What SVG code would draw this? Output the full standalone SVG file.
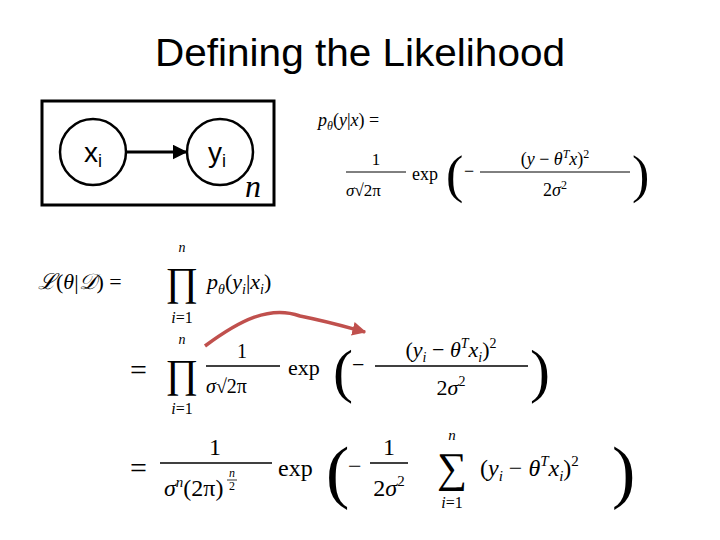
<svg xmlns="http://www.w3.org/2000/svg" width="720" height="540" viewBox="0 0 720 540">
<style>
.m{font-family:"Liberation Serif","DejaVu Serif",serif;fill:#000}
.i{font-style:italic}
.s{font-family:"Liberation Sans",Arial,sans-serif}
</style>
<defs>
<marker id="ab" viewBox="0 0 10 10" refX="9" refY="5" markerWidth="5" markerHeight="5" orient="auto"><path d="M0,0L10,5L0,10z" fill="#000"/></marker>
<marker id="ar" viewBox="0 0 10 10" refX="9" refY="5" markerWidth="4" markerHeight="4" orient="auto"><path d="M0,0L10,5L0,10z" fill="#c0504d"/></marker>
</defs>
<rect width="720" height="540" fill="#fff"/>
<text x="155" y="66" textLength="410" lengthAdjust="spacingAndGlyphs" class="s" font-size="38">Defining the Likelihood</text>
<g id="plate"><rect x="42" y="101" width="232" height="104" fill="none" stroke="#000" stroke-width="3"/>
<text x="245" y="197" class="m i" font-size="32">n</text></g>
<g id="xi"><circle cx="93" cy="152" r="33" fill="#fff" stroke="#000" stroke-width="2.5"/>
<text x="84" y="162" class="s" font-size="28">x<tspan font-size="18" dy="5">i</tspan></text></g>
<g id="yi"><circle cx="220" cy="152" r="33" fill="#fff" stroke="#000" stroke-width="2.5"/>
<text x="208" y="162" class="s" font-size="28">y<tspan font-size="18" dy="5">i</tspan></text></g>
<g id="connectors">
<line x1="127" y1="152" x2="186" y2="152" stroke="#000" stroke-width="3" marker-end="url(#ab)"/>
<path d="M205,346 C240,320 270,305 300,316 C330,322 350,328 365,332" fill="none" stroke="#c0504d" stroke-width="3.5" marker-end="url(#ar)"/>
</g>
<g id="formulas" class="m" font-size="18">
<text x="318" y="126"><tspan class="i">p</tspan><tspan font-size="12" class="i" dy="4">θ</tspan><tspan dy="-4">(</tspan><tspan class="i">y</tspan>|<tspan class="i">x</tspan>) =</text>
<text x="376" y="165" font-size="17" text-anchor="middle">1</text>
<line x1="346" y1="172" x2="406" y2="172" stroke="#000"/>
<text x="346" y="196" font-size="17"><tspan class="i">σ</tspan>√2π</text>
<text x="412" y="180" font-size="18">exp</text>
<text x="446" y="192" font-size="52">(</text>
<text x="464" y="177">−</text>
<line x1="480" y1="172" x2="630" y2="172" stroke="#000"/>
<text x="555" y="165" text-anchor="middle">(<tspan class="i">y</tspan> − <tspan class="i">θ</tspan><tspan font-size="12" class="i" dy="-7">T</tspan><tspan dy="7" class="i">x</tspan>)<tspan font-size="12" dy="-7">2</tspan></text>
<text x="555" y="196" text-anchor="middle">2<tspan class="i">σ</tspan><tspan font-size="12" dy="-7">2</tspan></text>
<text x="632" y="192" font-size="52">)</text>

<text x="38" y="289" font-size="22"><tspan class="i">ℒ</tspan>(<tspan class="i">θ</tspan>|<tspan class="i">𝒟</tspan>) =</text>
<text x="182" y="252" font-size="14" class="i" text-anchor="middle">n</text>
<text x="182" y="295" font-size="40" text-anchor="middle">∏</text>
<text x="182" y="323" font-size="16" text-anchor="middle"><tspan class="i">i</tspan>=1</text>
<text x="207" y="289" font-size="22"><tspan class="i">p</tspan><tspan font-size="14" class="i" dy="5">θ</tspan><tspan dy="-5">(</tspan><tspan class="i">y</tspan><tspan font-size="14" class="i" dy="5">i</tspan><tspan dy="-5">|</tspan><tspan class="i">x</tspan><tspan font-size="14" class="i" dy="5">i</tspan><tspan dy="-5">)</tspan></text>

<text x="130" y="380" font-size="30">=</text>
<text x="182" y="344" font-size="14" class="i" text-anchor="middle">n</text>
<text x="182" y="387" font-size="40" text-anchor="middle">∏</text>
<text x="182" y="414" font-size="16" text-anchor="middle"><tspan class="i">i</tspan>=1</text>
<text x="242" y="358" font-size="20" text-anchor="middle">1</text>
<line x1="206" y1="366" x2="280" y2="366" stroke="#000" stroke-width="1.3"/>
<text x="206" y="393" font-size="20"><tspan class="i">σ</tspan>√2π</text>
<text x="288" y="375" font-size="22">exp</text>
<text x="333" y="391" font-size="60">(</text>
<text x="352" y="372" font-size="22">−</text>
<line x1="375" y1="366" x2="528" y2="366" stroke="#000" stroke-width="1.3"/>
<text x="451" y="357" font-size="22" text-anchor="middle">(<tspan class="i">y</tspan><tspan font-size="14" class="i" dy="5">i</tspan><tspan dy="-5"> − </tspan><tspan class="i">θ</tspan><tspan font-size="14" class="i" dy="-9">T</tspan><tspan dy="9" class="i">x</tspan><tspan font-size="14" class="i" dy="5">i</tspan><tspan dy="-5">)</tspan><tspan font-size="14" dy="-9">2</tspan></text>
<text x="451" y="395" font-size="22" text-anchor="middle">2<tspan class="i">σ</tspan><tspan font-size="14" dy="-9">2</tspan></text>
<text x="530" y="391" font-size="60">)</text>

<text x="130" y="478" font-size="30">=</text>
<text x="215" y="455" font-size="24" text-anchor="middle">1</text>
<line x1="160" y1="463" x2="272" y2="463" stroke="#000" stroke-width="1.5"/>
<text x="164" y="496" font-size="24"><tspan class="i">σ</tspan><tspan font-size="15" class="i" dy="-9">n</tspan><tspan dy="9">(2π)</tspan></text>
<text x="232" y="477" font-size="12" class="i" text-anchor="middle">n</text>
<line x1="227" y1="480" x2="237" y2="480" stroke="#000" stroke-width="0.8"/>
<text x="232" y="490" font-size="12" text-anchor="middle">2</text>
<text x="278" y="476" font-size="24">exp</text>
<text x="326" y="495" font-size="70">(</text>
<text x="348" y="474" font-size="24">−</text>
<text x="389" y="455" font-size="24" text-anchor="middle">1</text>
<line x1="370" y1="463" x2="408" y2="463" stroke="#000" stroke-width="1.5"/>
<text x="389" y="496" font-size="24" text-anchor="middle">2<tspan class="i">σ</tspan><tspan font-size="15" dy="-10">2</tspan></text>
<text x="452" y="440" font-size="15" class="i" text-anchor="middle">n</text>
<text x="452" y="482" font-size="42" text-anchor="middle">∑</text>
<text x="452" y="508" font-size="16" text-anchor="middle"><tspan class="i">i</tspan>=1</text>
<text x="480" y="476" font-size="24">(<tspan class="i">y</tspan><tspan font-size="15" class="i" dy="5">i</tspan><tspan dy="-5"> − </tspan><tspan class="i">θ</tspan><tspan font-size="15" class="i" dy="-10">T</tspan><tspan dy="10" class="i">x</tspan><tspan font-size="15" class="i" dy="5">i</tspan><tspan dy="-5">)</tspan><tspan font-size="15" dy="-10">2</tspan></text>
<text x="612" y="495" font-size="70">)</text>
</g>
</svg>
